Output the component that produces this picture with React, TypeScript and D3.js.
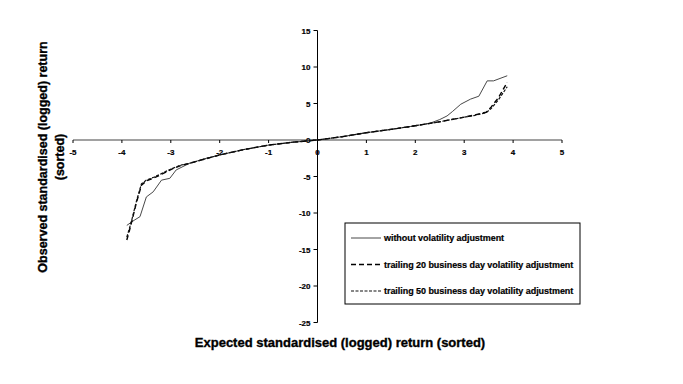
import React from "react";
import * as d3 from "d3";

const xTicks = [-5, -4, -3, -2, -1, 0, 1, 2, 3, 4, 5];
const yTicks = [15, 10, 5, 0, -5, -10, -15, -20, -25];

const solidX = [-3.9, -3.75, -3.63, -3.5, -3.36, -3.19, -3.02, -2.89, -2.62, -2.3, -2.0, -1.5, -1.0, -0.5, 0, 0.5, 1, 1.5, 2, 2.3, 2.5, 2.65, 2.76, 2.93, 3.13, 3.3, 3.47, 3.6, 3.88];
const solidY = [-11.7, -11.0, -10.5, -7.8, -7.1, -5.5, -5.25, -4.1, -3.2, -2.55, -2.05, -1.3, -0.7, -0.3, 0, 0.45, 1.0, 1.45, 1.95, 2.3, 2.8, 3.3, 3.9, 4.9, 5.6, 6.0, 8.1, 8.1, 8.8];

const dash20X = [-3.9, -3.85, -3.8, -3.7, -3.6, -3.5, -3.35, -3.22, -3.1, -2.95, -2.8, -2.62, -2.3, -2.0, -1.5, -1.0, -0.5, 0, 0.5, 1, 1.5, 2, 2.5, 2.9, 3.2, 3.45, 3.55, 3.7, 3.88];
const dash20Y = [-13.7, -12.5, -11.2, -8.5, -6.2, -5.6, -5.2, -4.8, -4.4, -3.9, -3.5, -3.2, -2.6, -2.05, -1.3, -0.7, -0.3, 0, 0.45, 1.0, 1.45, 1.95, 2.5, 3.0, 3.4, 3.8, 4.5, 5.8, 7.9];

const dash50X = [-3.9, -3.85, -3.8, -3.7, -3.6, -3.5, -3.35, -3.22, -3.1, -2.95, -2.8, -2.62, -2.3, -2.0, -1.5, -1.0, -0.5, 0, 0.5, 1, 1.5, 2, 2.5, 2.9, 3.2, 3.45, 3.55, 3.7, 3.88];
const dash50Y = [-13.3, -12.2, -11.0, -8.3, -6.0, -5.5, -5.1, -4.7, -4.3, -3.85, -3.45, -3.2, -2.6, -2.05, -1.3, -0.7, -0.3, 0, 0.45, 1.0, 1.45, 1.95, 2.5, 3.0, 3.35, 3.75, 4.3, 5.5, 7.3];

const legendLabels = [
  "without volatility adjustment",
  "trailing 20 business day volatility adjustment",
  "trailing 50 business day volatility adjustment",
];
const xTitle = "Expected standardised (logged) return (sorted)";
const yTitle1 = "Observed standardised (logged) return";
const yTitle2 = "(sorted)";

const FONT = "'Liberation Sans', Arial, sans-serif";

export default function App() {
  const x = d3.scaleLinear().domain([-5, 5]).range([73, 562]);
  const y = d3.scaleLinear().domain([-25, 15]).range([322.5, 30.5]);
  const line = d3
    .line<[number, number]>()
    .x((d) => x(d[0]))
    .y((d) => y(d[1]));
  const zip = (a: number[], b: number[]) => a.map((v, i) => [v, b[i]] as [number, number]);

  const series = [
    { d: zip(solidX, solidY), dash: "none", w: 0.9, c: "#333" },
    { d: zip(dash20X, dash20Y), dash: "5,3", w: 1.4, c: "#000" },
    { d: zip(dash50X, dash50Y), dash: "3,1.5", w: 1.2, c: "#111" },
  ];

  const x0 = x(0);
  const y0 = y(0);
  const heavy = { stroke: "#000", strokeWidth: 0.35 };

  return (
    <svg
      width={683}
      height={384}
      style={{ position: "absolute", left: 0, top: 0, background: "#fff" }}
      fontFamily={FONT}
    >
      <rect x={0} y={0} width={683} height={384} fill="#fff" />
      <line x1={x(-5)} x2={x(5)} y1={y0} y2={y0} stroke="#444" strokeWidth={1.2} />
      <line x1={x0} x2={x0} y1={y(15)} y2={y(-25)} stroke="#000" strokeWidth={1} />
      {xTicks.map((t) => (
        <g key={"xt" + t}>
          <line x1={x(t)} x2={x(t)} y1={y0} y2={y0 + 3} stroke="#000" />
          <text x={x(t)} y={y0 + 15} textAnchor="middle" fontSize={8} fontWeight="bold" {...heavy} strokeWidth={0.2}>
            {t}
          </text>
        </g>
      ))}
      {yTicks.map((t) => (
        <g key={"yt" + t}>
          <line x1={x0 - 4} x2={x0} y1={y(t)} y2={y(t)} stroke="#000" />
          <text x={x0 - 7} y={y(t) + 3} textAnchor="end" fontSize={8} fontWeight="bold" {...heavy} strokeWidth={0.2}>
            {t}
          </text>
        </g>
      ))}
      {series.map((s, i) => (
        <path
          key={"s" + i}
          d={line(s.d) || ""}
          fill="none"
          stroke={s.c}
          strokeWidth={s.w}
          strokeDasharray={s.dash}
        />
      ))}
      <rect x={345} y={223} width={235} height={81} fill="#fff" stroke="#000" strokeWidth={1} />
      {legendLabels.map((lab, i) => {
        const ly = 238 + i * 26.5;
        const s = series[i];
        return (
          <g key={"lg" + i}>
            <line x1={351} x2={381} y1={ly} y2={ly} stroke={s.c} strokeWidth={s.w} strokeDasharray={s.dash} />
            <text x={384} y={ly + 3} fontSize={9} fontWeight="bold" letterSpacing={-0.05} {...heavy} strokeWidth={0.2}>
              {lab}
            </text>
          </g>
        );
      })}
      <text x={340} y={347} textAnchor="middle" fontSize={13} fontWeight="bold" {...heavy}>
        {xTitle}
      </text>
      <text transform="translate(47,157) rotate(-90)" textAnchor="middle" fontSize={12.5} fontWeight="bold" {...heavy}>
        {yTitle1}
      </text>
      <text transform="translate(64,157) rotate(-90)" textAnchor="middle" fontSize={12.5} fontWeight="bold" {...heavy}>
        {yTitle2}
      </text>
    </svg>
  );
}
